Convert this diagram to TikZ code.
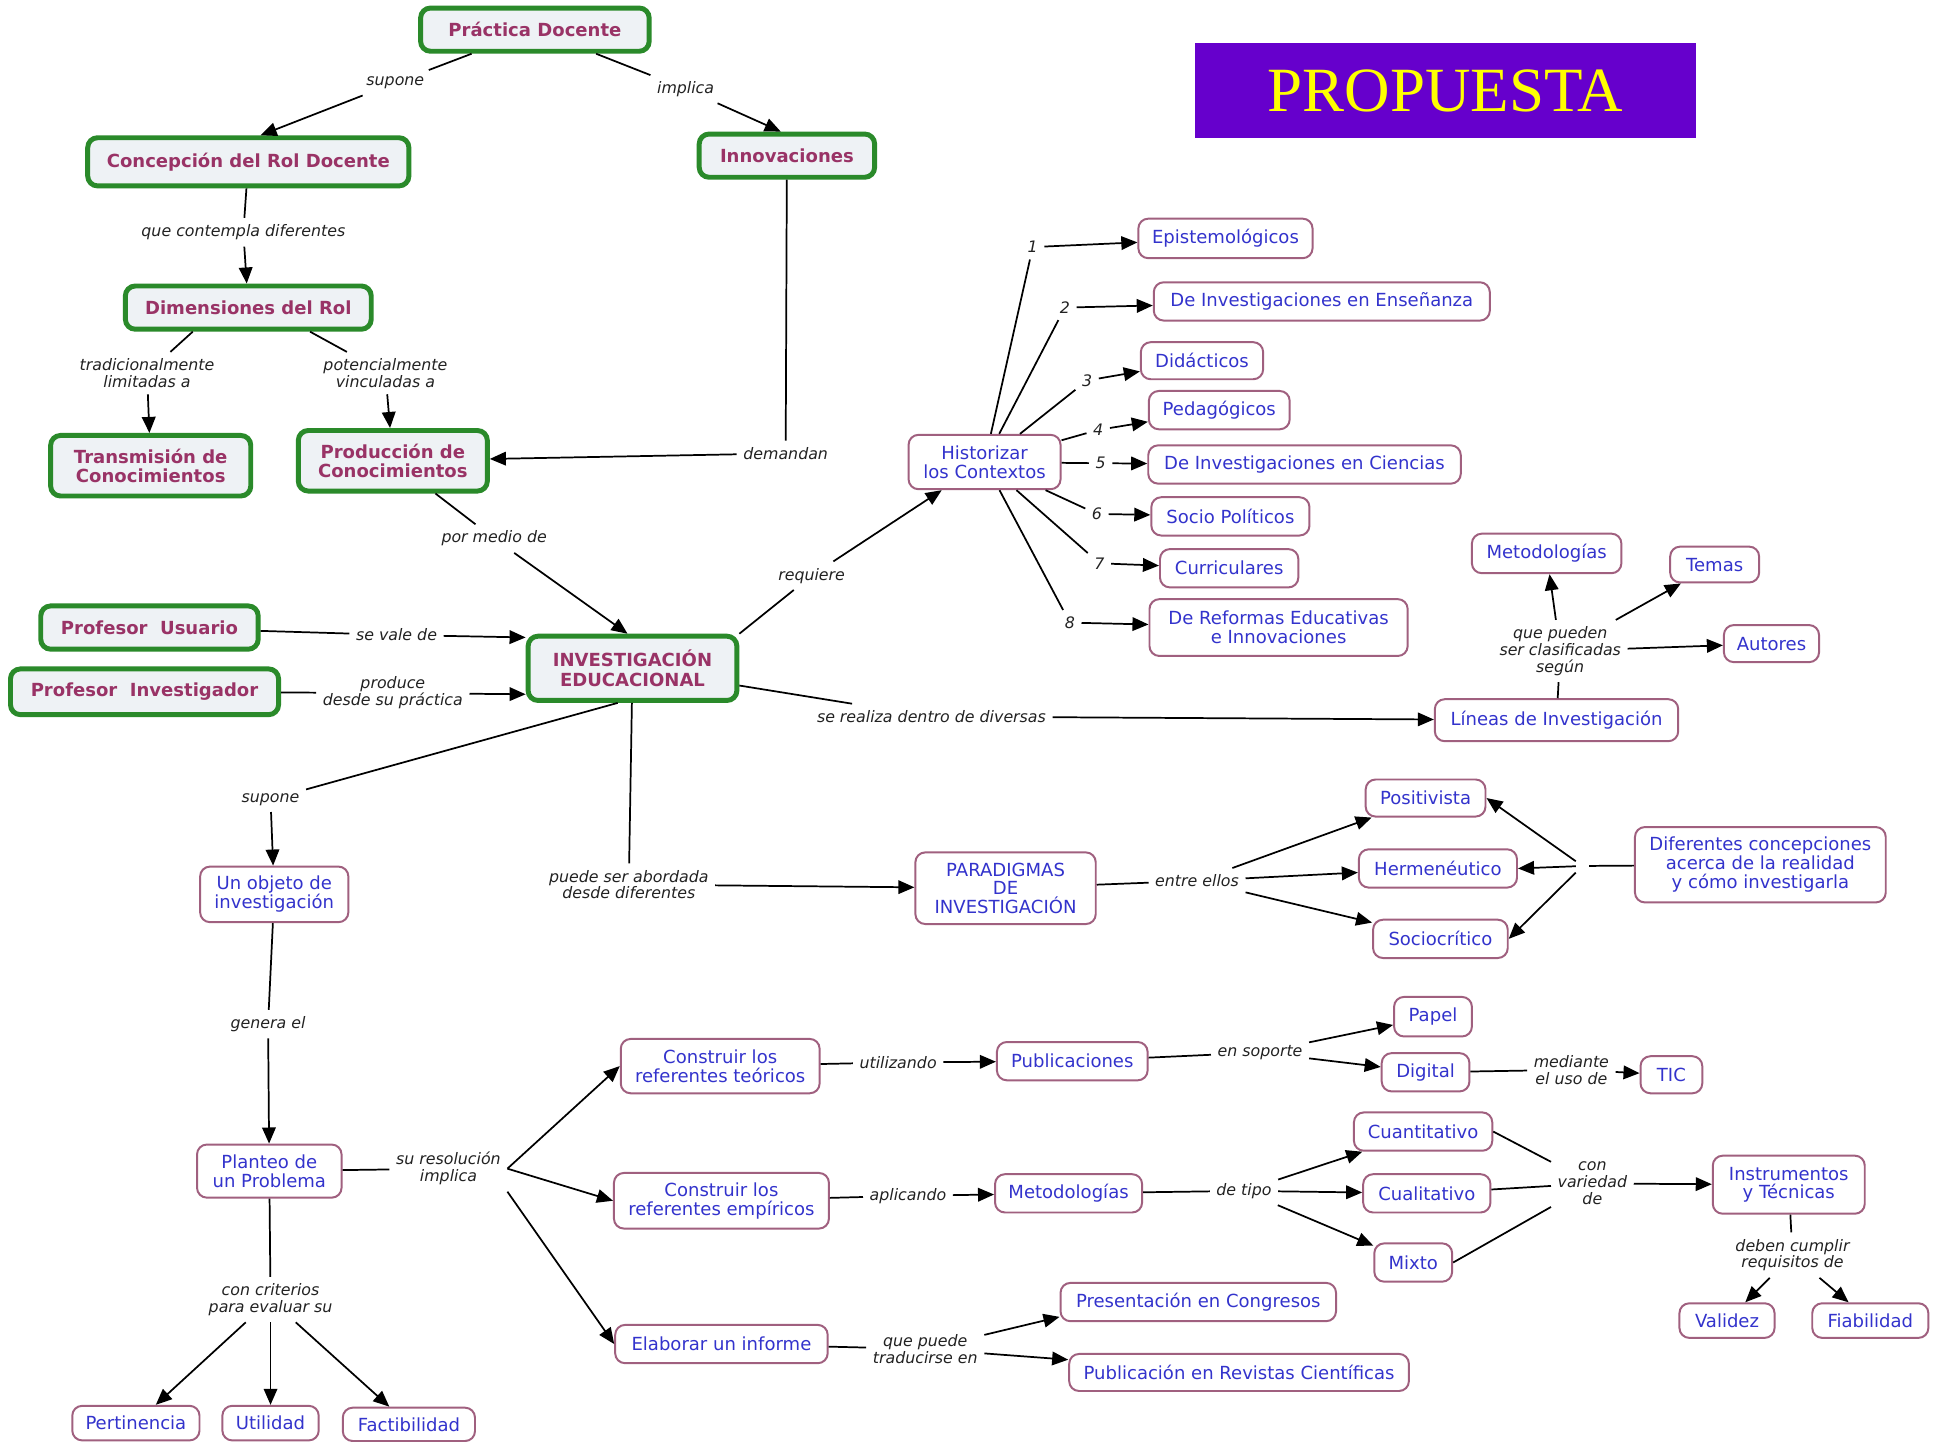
\documentclass[tikz,border=0pt]{standalone}
\usepackage{fontspec}
\setmainfont{DejaVu Sans}
\newfontfamily\propfont{Liberation Serif}
\usetikzlibrary{arrows.meta,calc}
\definecolor{gborder}{HTML}{2A8A2A}
\definecolor{gfill}{HTML}{EEF2F5}
\definecolor{gtext}{HTML}{993366}
\definecolor{btext}{HTML}{3333CC}
\definecolor{bborder}{HTML}{A0607F}
\definecolor{propbg}{HTML}{6600CC}
\definecolor{propfg}{HTML}{FFFF00}
\definecolor{lbltext}{HTML}{222222}
\begin{document}
\begin{tikzpicture}[x=0.5pt,y=-0.5pt,
  gnode/.style={draw=gborder, line width=2pt, fill=gfill, rounded corners=4pt, text=gtext,
    font=\bfseries\fontsize{7.3}{7.9}\selectfont, align=center, inner sep=1pt},
  bnode/.style={draw=bborder, line width=0.8pt, fill=white, rounded corners=4pt, text=btext,
    font=\fontsize{7.3}{7.6}\selectfont, align=center, inner sep=1pt},
  lbl/.style={font=\itshape\fontsize{6.4}{6.8}\selectfont, text=lbltext, inner sep=2.5pt, align=center},
  conn/.style={draw=black, line width=0.7pt},
  arr/.style={conn, -{Triangle[length=6.5pt,width=5.5pt]}},
  propbox/.style={fill=propbg, text=propfg, font=\propfont\fontsize{25.5}{26}\selectfont, inner sep=0pt}
]
\fill[white] (0,0) rectangle (1568,1167);
\useasboundingbox (0,0) rectangle (1568,1167);

% ---------- title ----------
\node[propbox, minimum width=203pt, minimum height=38.5pt] (prop) at (1170,73.5) {PROPUESTA};

% ---------- green nodes ----------
\node[gnode, minimum width=92.5pt, minimum height=17.5pt] (pd) at (433,24) {Práctica Docente};
\node[gnode, minimum width=130pt, minimum height=19.5pt] (concep) at (201,131) {Concepción del Rol Docente};
\node[gnode, minimum width=71pt, minimum height=17.5pt] (innov) at (637,126) {Innovaciones};
\node[gnode, minimum width=99.5pt, minimum height=17.5pt] (dim) at (201,249) {Dimensiones del Rol};
\node[gnode, minimum width=81pt, minimum height=24.5pt] (trans) at (122,377) {Transmisión de\\Conocimientos};
\node[gnode, minimum width=76.5pt, minimum height=24.5pt] (prod) at (318,373) {Producción de\\Conocimientos};
\node[gnode, minimum width=88pt, minimum height=17.5pt] (pusu) at (121,508) {Profesor\ \ Usuario};
\node[gnode, minimum width=108.5pt, minimum height=18.5pt] (pinv) at (117,560) {Profesor\ \ Investigador};
\node[gnode, minimum width=84.5pt, minimum height=26pt] (inv) at (512,541) {INVESTIGACIÓN\\EDUCACIONAL};

% ---------- blue nodes ----------
\node[bnode, minimum width=61.5pt, minimum height=22pt] (hist) at (797,374) {Historizar\\los Contextos};
\node[bnode, minimum width=70.5pt, minimum height=16pt] (epi) at (992,193) {Epistemológicos};
\node[bnode, minimum width=136pt, minimum height=15.5pt] (ense) at (1070,244) {De Investigaciones en Enseñanza};
\node[bnode, minimum width=49.5pt, minimum height=15pt] (dida) at (973,292) {Didácticos};
\node[bnode, minimum width=57pt, minimum height=15.5pt] (peda) at (987,332) {Pedagógicos};
\node[bnode, minimum width=126.5pt, minimum height=15.5pt] (cien) at (1056,376) {De Investigaciones en Ciencias};
\node[bnode, minimum width=64pt, minimum height=15.5pt] (soci) at (996,418) {Socio Políticos};
\node[bnode, minimum width=56pt, minimum height=15.5pt] (curr) at (995,460) {Curriculares};
\node[bnode, minimum width=104.5pt, minimum height=23pt] (refo) at (1035,508) {De Reformas Educativas\\e Innovaciones};

\node[bnode, minimum width=60.5pt, minimum height=16pt] (metA) at (1252,448) {Metodologías};
\node[bnode, minimum width=36pt, minimum height=14.5pt] (temas) at (1388,457) {Temas};
\node[bnode, minimum width=38.5pt, minimum height=15pt] (autor) at (1434,521) {Autores};
\node[bnode, minimum width=98.5pt, minimum height=17pt] (lineas) at (1260,583) {Líneas de Investigación};

\node[bnode, minimum width=73pt, minimum height=29pt] (parad) at (814,719) {PARADIGMAS\\DE\\INVESTIGACIÓN};
\node[bnode, minimum width=48.5pt, minimum height=15pt] (posit) at (1154,646) {Positivista};
\node[bnode, minimum width=64pt, minimum height=15.5pt] (herm) at (1164,703) {Hermenéutico};
\node[bnode, minimum width=54.5pt, minimum height=15.5pt] (socio) at (1166,760) {Sociocrítico};
\node[bnode, minimum width=101.5pt, minimum height=30.5pt] (dif) at (1425,700) {Diferentes concepciones\\acerca de la realidad\\y cómo investigarla};

\node[bnode, minimum width=60pt, minimum height=22.5pt] (objeto) at (222,724) {Un objeto de\\investigación};
\node[bnode, minimum width=58.5pt, minimum height=21.5pt] (plant) at (218,948) {Planteo de\\un Problema};
\node[bnode, minimum width=51.5pt, minimum height=14pt] (pert) at (110,1152) {Pertinencia};
\node[bnode, minimum width=39pt, minimum height=14pt] (util) at (219,1152) {Utilidad};
\node[bnode, minimum width=53.5pt, minimum height=13.5pt] (fact) at (331,1153) {Factibilidad};

\node[bnode, minimum width=80.5pt, minimum height=22pt] (cteo) at (583,863) {Construir los\\referentes teóricos};
\node[bnode, minimum width=87pt, minimum height=22.5pt] (cemp) at (584,972) {Construir los\\referentes empíricos};
\node[bnode, minimum width=86pt, minimum height=15.5pt] (elab) at (584,1088) {Elaborar un informe};

\node[bnode, minimum width=61pt, minimum height=15.5pt] (publ) at (868,859) {Publicaciones};
\node[bnode, minimum width=31.5pt, minimum height=16pt] (papel) at (1160,823) {Papel};
\node[bnode, minimum width=35.5pt, minimum height=15.5pt] (digit) at (1154,868) {Digital};
\node[bnode, minimum width=25pt, minimum height=15pt] (tic) at (1353,870) {TIC};

\node[bnode, minimum width=59.5pt, minimum height=15.5pt] (metB) at (865,966) {Metodologías};
\node[bnode, minimum width=56pt, minimum height=15.5pt] (cuant) at (1152,916) {Cuantitativo};
\node[bnode, minimum width=51.5pt, minimum height=15.5pt] (cual) at (1155,966) {Cualitativo};
\node[bnode, minimum width=31.5pt, minimum height=15.5pt] (mixto) at (1144,1022) {Mixto};
\node[bnode, minimum width=61.5pt, minimum height=23.5pt] (instr) at (1448,959) {Instrumentos\\y Técnicas};
\node[bnode, minimum width=38.5pt, minimum height=14pt] (valid) at (1398,1069) {Validez};
\node[bnode, minimum width=47pt, minimum height=14pt] (fiab) at (1514,1069) {Fiabilidad};

\node[bnode, minimum width=111.5pt, minimum height=15.5pt] (pres) at (970,1054) {Presentación en Congresos};
\node[bnode, minimum width=137.5pt, minimum height=15pt] (prev) at (1003,1111) {Publicación en Revistas Científicas};

% ---------- linking phrases ----------
\node[lbl] (lsup1) at (320,67) {supone};
\node[lbl] (limp) at (555,72) {implica};
\node[lbl] (lcont) at (197,188) {que contempla diferentes};
\node[lbl] (ltrad) at (119,302) {tradicionalmente\\limitadas a};
\node[lbl] (lpot) at (312,302) {potencialmente\\vinculadas a};
\node[lbl] (ldem) at (636,367) {demandan};
\node[lbl] (lpor) at (400,436) {por medio de};
\node[lbl] (lvale) at (321,514) {se vale de};
\node[lbl] (lprod) at (318,561) {produce\\desde su práctica};
\node[lbl] (lreq) at (657,466) {requiere};
\node[lbl] (lreal) at (754,580) {se realiza dentro de diversas};
\node[lbl] (lsup2) at (219,647) {supone};
\node[lbl] (lpuede) at (509,716) {puede ser abordada\\desde diferentes};
\node[lbl] (lgen) at (217,829) {genera el};
\node[lbl] (lres) at (363,946) {su resolución\\implica};
\node[lbl] (lcrit) at (219,1052) {con criterios\\para evaluar su};
\node[lbl] (lutil) at (727,860) {utilizando};
\node[lbl] (lsop) at (1020,852) {en soporte};
\node[lbl] (lmed) at (1272,866) {mediante\\el uso de};
\node[lbl] (lapl) at (735,968) {aplicando};
\node[lbl] (ltipo) at (1007,964) {de tipo};
\node[lbl] (lvar) at (1289,958) {con\\variedad\\de};
\node[lbl] (ldeb) at (1451,1016) {deben cumplir\\requisitos de};
\node[lbl] (ltrad2) at (749,1092) {que puede\\traducirse en};
\node[lbl] (lentre) at (969,713) {entre ellos};
\node[lbl] (lclas) at (1263,527) {que pueden\\ser clasificadas\\según};
\node[lbl] (n1) at (836,200) {1};
\node[lbl] (n2) at (862,249) {2};
\node[lbl] (n3) at (880,308) {3};
\node[lbl] (n4) at (889,348) {4};
\node[lbl] (n5) at (891,375) {5};
\node[lbl] (n6) at (888,416) {6};
\node[lbl] (n7) at (890,456) {7};
\node[lbl] (n8) at (866,504) {8};
\node[inner sep=0pt, minimum size=5pt] (jd) at (1281,701) {};

% ---------- connectors ----------
\draw[conn] (pd) -- (lsup1);
\draw[arr] (lsup1) -- ($(concep.north)+(10,0)$);
\draw[conn] (pd) -- (limp);
\draw[arr] (limp) -- ($(innov.north)+(-5,0)$);
\draw[conn] (concep) -- (lcont);
\draw[arr] (lcont) -- (dim);
\draw[conn] ($(dim.south)+(-45,0)$) -- (ltrad);
\draw[arr] (ltrad) -- (trans);
\draw[conn] ($(dim.south)+(50,0)$) -- (lpot);
\draw[arr] (lpot) -- (prod);
\draw[conn] (innov) -- (ldem);
\draw[arr] (ldem) -- (prod);
\draw[conn] (prod) -- (lpor);
\draw[arr] (lpor) -- ($(inv.north)+(-4,0)$);
\draw[conn] (pusu) -- (lvale);
\draw[arr] (lvale) -- ($(inv.west)+(0,-25)$);
\draw[conn] (pinv) -- (lprod);
\draw[arr] (lprod) -- ($(inv.west)+(0,21)$);
\draw[conn] (inv.north east) -- (lreq);
\draw[arr] (lreq) -- (hist);
\draw[conn] (inv) -- (lreal);
\draw[arr] (lreal) -- (lineas);
\draw[conn] ($(inv.south)+(-12,0)$) -- (lsup2);
\draw[arr] (lsup2) -- (objeto);
\draw[conn] (inv) -- (lpuede);
\draw[arr] (lpuede) -- (parad);

\foreach \n/\t in {n1/epi,n2/ense,n3/dida,n4/peda,n5/cien,n6/soci,n7/curr,n8/refo}{
  \draw[conn] (hist) -- (\n);
  \draw[arr] (\n) -- (\t);
}

\draw[conn] (lineas) -- (lclas);
\draw[arr] (lclas) -- (metA);
\draw[arr] (lclas) -- (temas);
\draw[arr] (lclas) -- (autor);

\draw[conn] (parad) -- (lentre);
\draw[arr] (lentre) -- (posit);
\draw[arr] (lentre) -- (herm);
\draw[arr] (lentre) -- (socio);

\draw[conn] (dif) -- (jd);
\draw[arr] (jd) -- (posit.east);
\draw[arr] (jd) -- (herm.east);
\draw[arr] (jd) -- (socio.east);

\draw[conn] (objeto) -- (lgen);
\draw[arr] (lgen) -- (plant);
\draw[conn] (plant) -- (lres);
\draw[arr] (lres.east) -- (cteo.west);
\draw[arr] (lres.east) -- (cemp.west);
\draw[arr] (lres.south east) -- (elab.west);
\draw[conn] (plant) -- (lcrit);
\draw[arr] (lcrit) -- (pert);
\draw[arr] (lcrit) -- (util);
\draw[arr] (lcrit) -- (fact);

\draw[conn] (cteo) -- (lutil);
\draw[arr] (lutil) -- (publ);
\draw[conn] (publ) -- (lsop);
\draw[arr] (lsop) -- (papel);
\draw[arr] (lsop) -- (digit);
\draw[conn] (digit) -- (lmed);
\draw[arr] (lmed) -- (tic);

\draw[conn] (cemp) -- (lapl);
\draw[arr] (lapl) -- (metB);
\draw[conn] (metB) -- (ltipo);
\draw[arr] (ltipo) -- (cuant);
\draw[arr] (ltipo) -- (cual);
\draw[arr] (ltipo) -- (mixto);
\draw[conn] (cuant.east) -- (lvar);
\draw[conn] (cual) -- (lvar);
\draw[conn] (mixto.east) -- (lvar);
\draw[arr] (lvar) -- (instr);
\draw[conn] (instr) -- (ldeb);
\draw[arr] (ldeb) -- (valid);
\draw[arr] (ldeb) -- (fiab);

\draw[conn] (elab) -- (ltrad2);
\draw[arr] (ltrad2) -- ($(pres.west)+(0,12)$);
\draw[arr] (ltrad2) -- (prev);
\end{tikzpicture}
\end{document}
